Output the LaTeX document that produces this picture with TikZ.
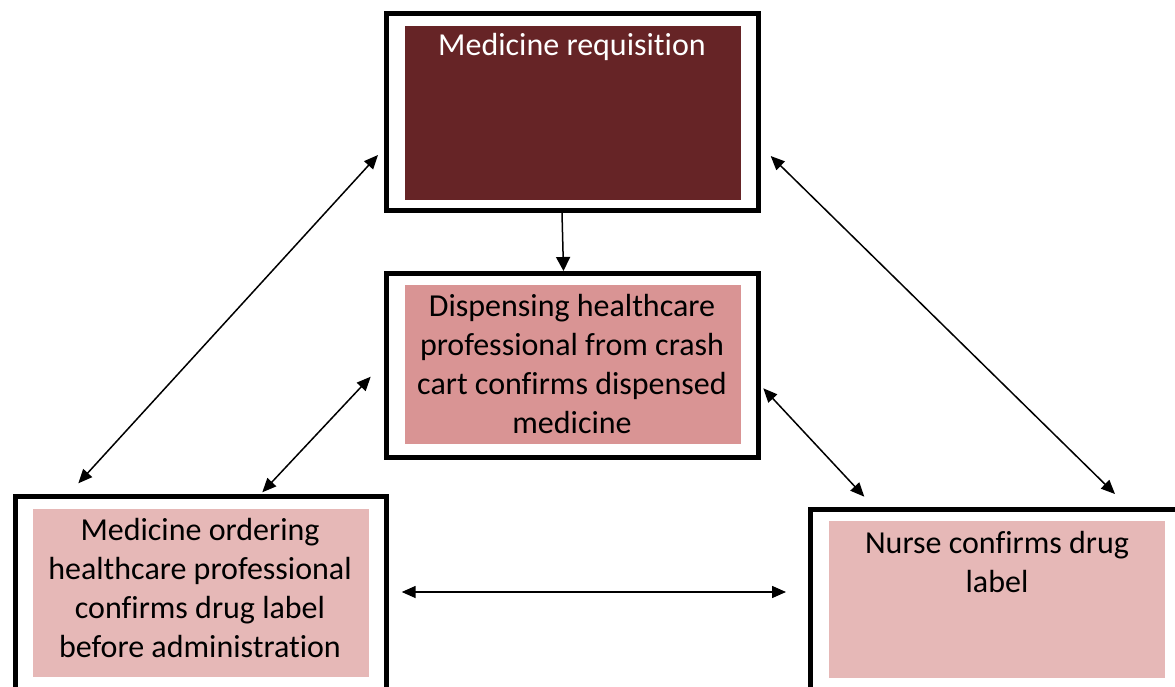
\documentclass[tikz,border=0pt]{standalone}
\usepackage{fontspec}
\setmainfont[Ligatures=NoCommon]{Carlito}
\usetikzlibrary{arrows.meta}
\definecolor{darkred}{HTML}{662426}
\definecolor{midpink}{HTML}{D99494}
\definecolor{lightpink}{HTML}{E6B8B7}
\begin{document}
\begin{tikzpicture}[x=1pt,y=-1pt,
  frame/.style={draw=black,line width=5pt,fill=white,inner sep=0pt,outer sep=0pt},
  fillbox/.style={inner sep=0pt,outer sep=0pt},
  label/.style={align=center,font=\fontsize{32}{39}\selectfont,inner sep=0pt},
  conn/.style={line width=1.5pt,{Triangle[length=14pt,width=12pt]}-{Triangle[length=14pt,width=12pt]}},
  oneway/.style={line width=1.5pt,-{Triangle[length=14pt,width=14pt]}}]
\useasboundingbox (0,0) rectangle (1175,687);
\begin{scope}
\clip (0,0) rectangle (1175,687);
% frames
\node[frame,minimum width=372pt,minimum height=197.5pt] (topframe) at (572,112.25) {};
\node[frame,minimum width=372pt,minimum height=184pt] (midframe) at (572,365) {};
\node[frame,minimum width=371.5pt,minimum height=220pt] (leftframe) at (200.75,606.3) {};
\node[frame,minimum width=380pt,minimum height=200pt] (rightframe) at (1000.3,609) {};
% fills
\node[fillbox,fill=darkred,minimum width=336pt,minimum height=174pt] (topfill) at (573,113) {};
\node[fillbox,fill=midpink,minimum width=336pt,minimum height=159pt] (midfill) at (573,364.7) {};
\node[fillbox,fill=lightpink,minimum width=336pt,minimum height=167.4pt] (leftfill) at (201,593) {};
\node[fillbox,fill=lightpink,minimum width=336pt,minimum height=156.7pt] (rightfill) at (997,599.3) {};
% texts
\node[label,text=white,anchor=north] (toptext) at (572,33) {Medicine requisition};
\node[label] (midtext) at (572,364) {Dispensing healthcare\\professional from crash\\cart confirms dispensed\\medicine};
\node[label] (lefttext) at (200,588) {Medicine ordering\\healthcare professional\\confirms drug label\\before administration};
\node[label,anchor=north] (righttext) at (997,531) {Nurse confirms drug\\label};
\end{scope}
% connector end points
\coordinate (a1) at (562,213);
\coordinate (a2) at (563.5,271);
\coordinate (b1) at (378,155);
\coordinate (b2) at (78.3,483.3);
\coordinate (c1) at (370.7,376.7);
\coordinate (c2) at (262.3,492.3);
\coordinate (d1) at (770.7,156);
\coordinate (d2) at (1115,494);
\coordinate (e1) at (763.3,388.3);
\coordinate (e2) at (864.3,496.7);
\coordinate (f1) at (401.7,592);
\coordinate (f2) at (786,592);
\draw[oneway] (a1) -- (a2);
\draw[conn] (b2) -- (b1);
\draw[conn] (c2) -- (c1);
\draw[conn] (d1) -- (d2);
\draw[conn] (e1) -- (e2);
\draw[conn] (f1) -- (f2);
\end{tikzpicture}
\end{document}
